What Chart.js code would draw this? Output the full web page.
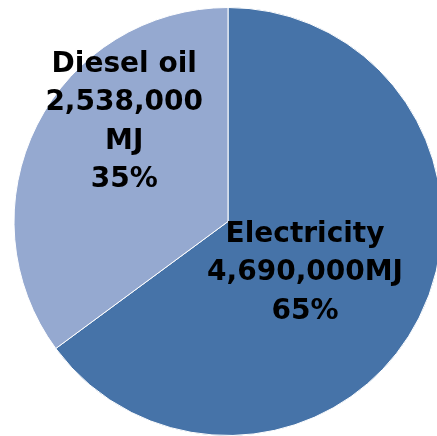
<!DOCTYPE html>
<html>
<head>
<meta charset="utf-8">
<script src="https://cdn.jsdelivr.net/npm/chart.js@4/dist/chart.umd.min.js"></script>
<style>
  html, body { margin: 0; padding: 0; background: #fff; overflow: hidden; }
  #wrap { position: relative; width: 456px; height: 436px; }
</style>
</head>
<body>
<div id="wrap"><canvas id="energyPie"></canvas></div>
<script>
// Energy use by source
const sources = ['Electricity', 'Diesel oil'];
const energyMJ = [4690000, 2538000];
const valueText = ['4,690,000MJ', '2,538,000\nMJ'];
const sliceColors = ['#4673a8', '#95a9d0'];

const total = energyMJ.reduce((a, b) => a + b, 0);

// draws the label block inside each slice
const sliceLabels = {
    id: 'sliceLabels',
    afterDatasetsDraw(chart, args, opts) {
        const ctx = chart.ctx;
        const arcs = chart.getDatasetMeta(0).data;
        ctx.save();
        ctx.font = 'bold 28px "DejaVu Sans", Verdana, sans-serif';
        ctx.fillStyle = '#000';
        ctx.textAlign = 'center';
        ctx.textBaseline = 'middle';
        arcs.forEach((arc, i) => {
            const pct = Math.round(energyMJ[i] / total * 100) + '%';
            const lines = [sources[i], ...valueText[i].split('\n'), pct];
            const pos = opts.offsets[i];
            const cx = arc.x + pos.dx * arc.outerRadius;
            const cy = arc.y + pos.dy * arc.outerRadius;
            const lh = 38.5;
            const top = cy - (lines.length - 1) * lh / 2;
            lines.forEach((t, k) => ctx.fillText(t, cx, top + k * lh));
        });
        ctx.restore();
    }
};

new Chart(document.getElementById('energyPie'), {
    type: 'pie',
    data: {
        labels: sources,
        datasets: [{
            data: energyMJ,
            backgroundColor: sliceColors,
            borderColor: '#ffffff',
            borderWidth: 1
        }]
    },
    options: {
        responsive: true,
        maintainAspectRatio: false,
        animation: false,
        layout: { padding: { top: 7, bottom: 0 } },
        plugins: {
            legend: { display: false },
            tooltip: { enabled: false },
            sliceLabels: {
                offsets: [{ dx: 0.36, dy: 0.24 }, { dx: -0.485, dy: -0.465 }]
            }
        }
    },
    plugins: [sliceLabels]
});
</script>
</body>
</html>
